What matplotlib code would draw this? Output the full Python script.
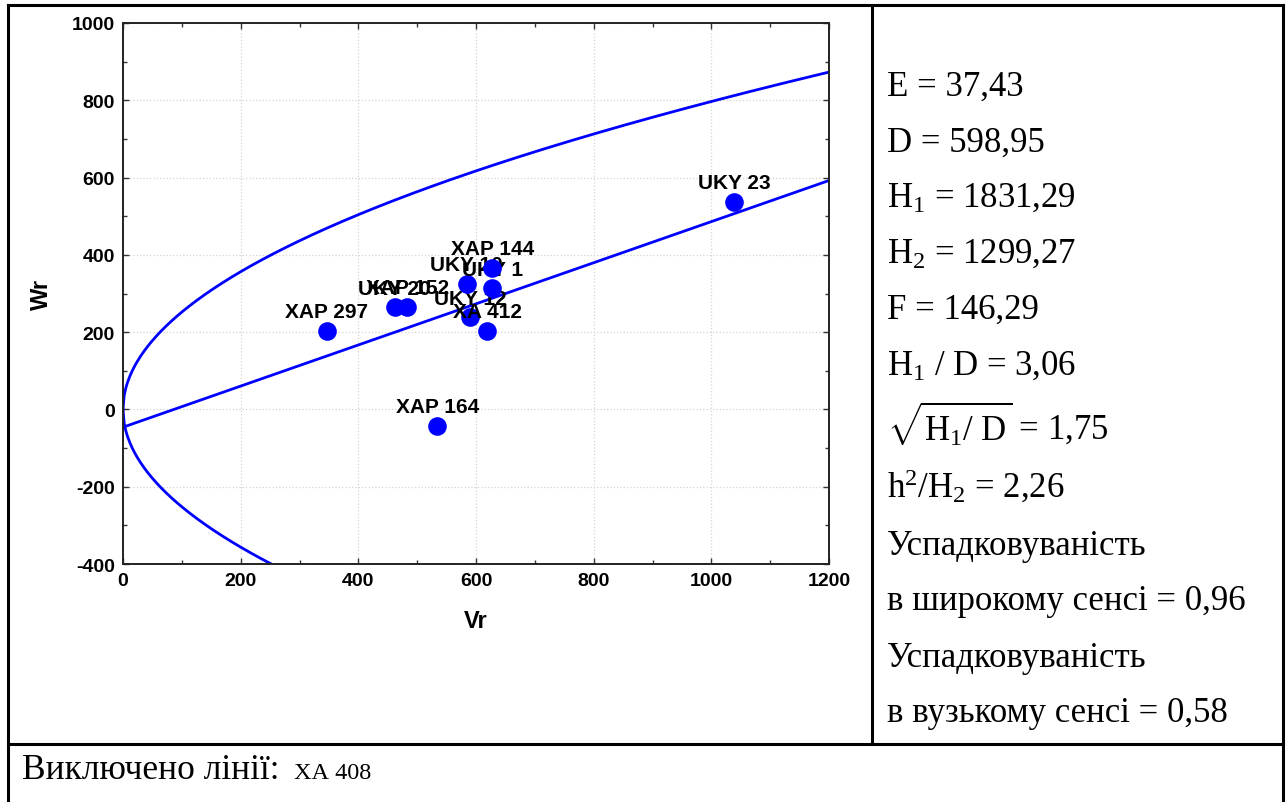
import numpy as np
import matplotlib
matplotlib.use("Agg")
import matplotlib.pyplot as plt
from matplotlib.lines import Line2D

plt.rcParams['font.family'] = ['Liberation Sans', 'DejaVu Sans']
plt.rcParams['axes.unicode_minus'] = False
plt.rcParams['mathtext.fontset'] = 'custom'
plt.rcParams['mathtext.rm'] = 'Liberation Serif'
plt.rcParams['mathtext.it'] = 'Liberation Serif:italic'
plt.rcParams['mathtext.bf'] = 'Liberation Serif:bold'

# lines (drawing order matters for overlaps)
names = ['XAP 297', 'UKY 20', 'XAP 152', 'UKY 12', 'XA 412', 'UKY 10',
         'UKY 1', 'XAP 144', 'XAP 164', 'UKY 23']
vr = [346, 462, 483, 590, 619, 584, 628, 628, 534, 1039]
wr = [204, 264, 266, 238, 204, 325, 313, 365, -42, 537]

# limiting parabola Wr^2 = Vr * Vp and regression line Wr = a + b*Vr
vp = 635
reg_a = -46
reg_b = 0.532

stats_lines = ['E = 37,43', 'D = 598,95', 'H$_{\\mathrm{1}}$ = 1831,29',
               'H$_{\\mathrm{2}}$ = 1299,27', 'F = 146,29',
               'H$_{\\mathrm{1}}$ / D = 3,06',
               r'$\sqrt{\mathrm{H_1/\ D}}$ = 1,75',
               'h$^{\\mathrm{2}}$/H$_{\\mathrm{2}}$ = 2,26',
               'Успадковуваність', 'в широкому сенсі = 0,96',
               'Успадковуваність', 'в вузькому сенсі = 0,58']
stats_base = [96, 152, 207, 263, 319, 375, 440, 498, 555, 610, 667, 722]

W, H = 1286, 803


def fx(px):
    return px / W


def fy(py):
    return 1 - py / H


fig = plt.figure(figsize=(12.86, 8.03), dpi=100)
ax = fig.add_axes([fx(123), fy(565), fx(829) - fx(123), fy(24) - fy(565)])

blue = '#0000ff'
xx = np.linspace(0, 1200, 600)
ax.plot(xx, np.sqrt(xx * vp), color=blue, lw=2, zorder=2)
ax.plot(xx, -np.sqrt(xx * vp), color=blue, lw=2, zorder=2)
xl = np.array([0, 1200])
ax.plot(xl, reg_a + reg_b * xl, color=blue, lw=2, zorder=2)

for i, (n, x, y) in enumerate(zip(names, vr, wr)):
    ax.scatter([x], [y], s=180, color=blue, zorder=3 + 2 * i, linewidths=0)
    ax.annotate(n, (x, y), xytext=(0, 10), textcoords='offset points',
                ha='center', va='baseline', fontsize=15, fontweight='bold',
                zorder=4 + 2 * i)

ax.set_xlim(0, 1200)
ax.set_ylim(-400, 1000)
ax.set_xticks(np.arange(0, 1201, 200))
ax.set_yticks(np.arange(-400, 1001, 200))
ax.set_xticks(np.arange(0, 1201, 100), minor=True)
ax.set_yticks(np.arange(-400, 1001, 100), minor=True)
ax.tick_params(which='both', direction='in', top=True, right=True,
               length=4, width=1, color='#333333')
ax.tick_params(which='minor', length=3)
ax.tick_params(axis='x', labelsize=14, pad=6)
ax.tick_params(axis='y', labelsize=14, pad=6)
for lab in ax.get_xticklabels() + ax.get_yticklabels():
    lab.set_fontweight('bold')
ax.grid(True, which='major', color='#d4d4d4', linestyle=':', lw=0.9)
for s in ax.spines.values():
    s.set_linewidth(1.4)
    s.set_color('#222222')

ax.set_xlabel('Vr', fontsize=17, fontweight='bold', va='center')
ax.xaxis.set_label_coords(0.5, -0.105)
ax.set_ylabel('Wr', fontsize=17, fontweight='bold', va='center')
ax.yaxis.set_label_coords(-0.115, 0.5)

# table frame
lw = 2.2
for (x0, y0, x1, y1) in [(8, 6, 1283, 6), (8, 6, 8, 803), (1283, 6, 1283, 803),
                         (872, 6, 872, 745), (8, 745, 1283, 745)]:
    fig.add_artist(Line2D([fx(x0), fx(x1)], [fy(y0), fy(y1)], color='black',
                          lw=lw, transform=fig.transFigure))

for t, b in zip(stats_lines, stats_base):
    fig.text(fx(887), fy(b), t, fontsize=25, va='baseline', ha='left',
             family=['Liberation Serif', 'DejaVu Serif'])

fig.text(fx(22), fy(779), 'Виключено лінії:', fontsize=25.5, va='baseline',
         ha='left', family=['Liberation Serif', 'DejaVu Serif'])
fig.text(fx(294), fy(779), 'ХА 408', fontsize=17.5, va='baseline',
         ha='left', family=['Liberation Serif', 'DejaVu Serif'])

fig.savefig('out.png', dpi=100, facecolor='white')
